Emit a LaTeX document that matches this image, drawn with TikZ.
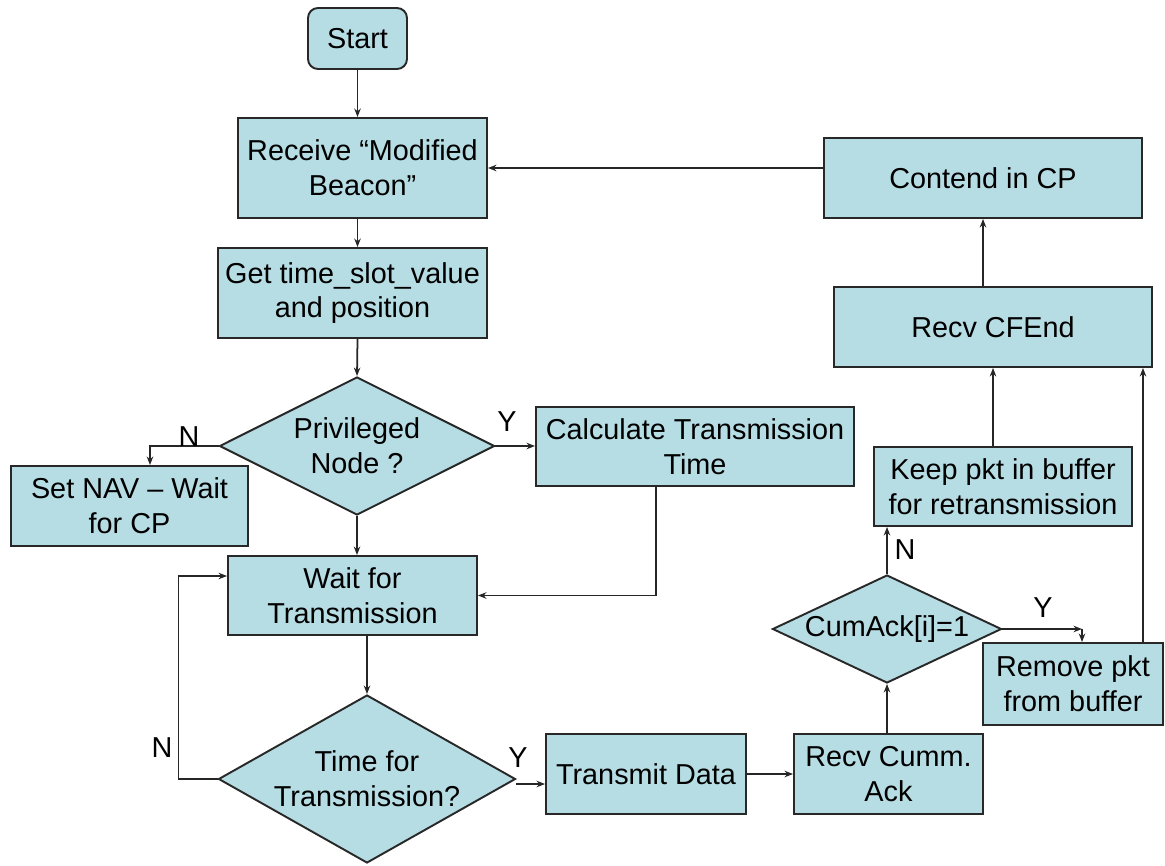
\documentclass[tikz,border=0pt]{standalone}
\usepackage{fontspec}
\setmainfont{Liberation Sans}
\usetikzlibrary{shapes.geometric,arrows.meta}
\definecolor{boxfill}{RGB}{183,221,228}
\definecolor{edgegray}{RGB}{40,40,40}

\begin{document}
\begin{tikzpicture}[x=0.02cm,y=-0.02cm,
  every node/.style={font=\fontsize{16.4}{19.8}\selectfont},
  sz/.style 2 args={minimum width=#1*0.02cm, minimum height=#2*0.02cm},
  box/.style={draw=edgegray, line width=1.1pt, fill=boxfill, align=center, inner sep=0pt},
  dia/.style={draw=edgegray, line width=1.1pt, fill=boxfill, shape=diamond, inner sep=0pt},
  txt/.style={align=center, inner sep=0pt},
  arr/.style={draw=black!85, line width=1pt, -{Stealth[length=0.17cm,width=0.13cm]}},
  tag/.style={inner sep=0pt}]

\useasboundingbox (0,0) rectangle (1165,865);

% process steps
\node[box, rounded corners=0.2cm, sz={99}{61}] (start) at (357.5,38.5) {Start};
\node[box, sz={249}{100}] (receive) at (362.5,168) {Receive “Modified\\Beacon”};
\node[box, sz={269}{90}] (get) at (352.5,293) {Get time\_slot\_value\\and position};
\node[dia, sz={275}{138}] (priv) at (357,446) {};
\node[txt] (privtext) at (priv.center) {Privileged\\Node ?};
\node[box, sz={237}{80}] (setnav) at (129.5,506) {Set NAV – Wait\\for CP};
\node[box, sz={318}{79}] (calc) at (695,446.5) {Calculate Transmission\\Time};
\node[box, sz={249}{79}] (wait) at (352.5,595.5) {Wait for\\Transmission};
\node[dia, sz={297}{168}] (time) at (367,779) {};
\node[txt] (timetext) at (time.center) {Time for\\Transmission?};
\node[box, sz={200}{80}] (transmit) at (646,774) {Transmit Data};
\node[box, sz={189}{80}] (recvack) at (888.5,774) {Recv Cumm.\\Ack};
\node[dia, sz={229}{108}] (cumack) at (887,629) {};
\node[txt] (cumtext) at (cumack.center) {CumAck[i]=1};
\node[box, sz={258}{79}] (keep) at (1003,486.5) {Keep pkt in buffer\\for retransmission};
\node[box, sz={180}{82}] (remove) at (1073,684) {Remove pkt\\from buffer};
\node[box, sz={318}{80}] (cfend) at (993,327) {Recv CFEnd};
\node[box, sz={318}{80}] (contend) at (983,178) {Contend in CP};

% helper points for bent connectors
\coordinate (navtop) at ([xshift=0.41cm]setnav.north);
\coordinate (yturn) at (1082,629);
\coordinate (remtop) at (yturn |- remove.north);

% connectors
\draw[arr] (start.south) -- (start.south |- receive.north);
\draw[arr] (start.south |- receive.south) -- (start.south |- get.north);
\draw[arr] (start.south |- get.south) -- (priv.north);
\draw[arr] (priv.west) -| (navtop);
\draw[arr] (priv.east) -- (calc.west |- priv.east);
\draw[arr] (priv.south) -- (priv.south |- wait.north);
\draw[arr] ([xshift=-0.78cm]calc.south) |- (wait.east);
\draw[arr] (time.north |- wait.south) -- (time.north);
\draw[arr] (time.west) -- ++(-39,0) |- ([yshift=0.39cm]wait.west);
\draw[arr] ([yshift=-0.1cm]time.east) -- ([yshift=-0.1cm]time.east -| transmit.west);
\draw[arr] (transmit.east) -- (recvack.west);
\draw[arr] (cumack.south |- recvack.north) -- (cumack.south);
\draw[arr] (cumack.north) -- (cumack.north |- keep.south);
\draw[arr] (cumack.east) -- (yturn);
\draw[arr] (yturn) -- (remtop);
\draw[arr] ([xshift=-0.42cm]remove.north east) -- ([xshift=-0.42cm]remove.north east |- cfend.south);
\draw[arr] (cfend.south |- keep.north) -- (cfend.south);
\draw[arr] (contend.south |- cfend.north) -- (contend.south);
\draw[arr] (contend.west |- receive.east) -- (receive.east);

% branch labels
\node[tag] (privn) at (189,437) {N};
\node[tag] (privy) at (507,422) {Y};
\node[tag] (timen) at (162,748) {N};
\node[tag] (timey) at (518,758) {Y};
\node[tag] (cumn) at (905,550) {N};
\node[tag] (cumy) at (1043,608) {Y};
\end{tikzpicture}
\end{document}
